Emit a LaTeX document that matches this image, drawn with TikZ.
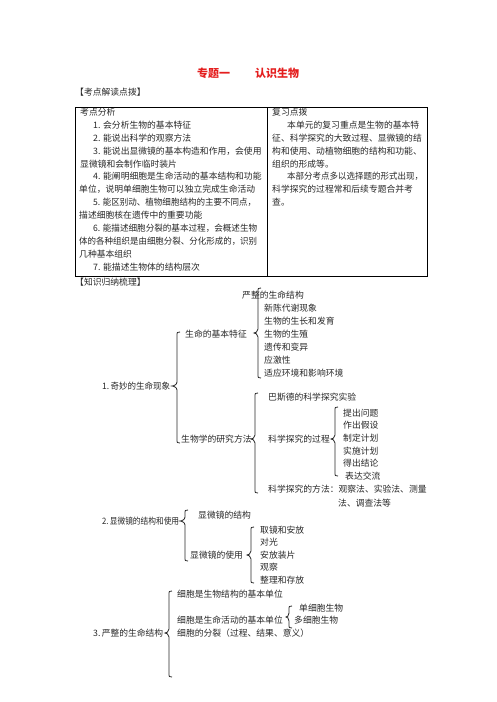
\documentclass[tikz,border=0pt]{standalone}
\usepackage{fontspec}
\usepackage{graphicx}
\setmainfont{Noto Sans CJK SC}
\definecolor{titlered}{RGB}{228,30,30}
\definecolor{ink}{RGB}{40,40,40}
\tikzset{
  txt/.style={anchor=west,inner sep=0pt,text=ink,font=\fontsize{8.8}{10}\selectfont},
  ttl/.style={anchor=west,inner sep=0pt,text=titlered,font=\fontsize{11}{13}\selectfont\bfseries},
  bracestyle/.style={draw=ink,line width=0.8pt},
  tablebox/.style={draw=black,line width=0.9pt}
}
\newcommand{\wbrace}[5]{%
  \draw[bracestyle] ({#1+3},#2) .. controls ({#1},#2) and ({#1},#2) .. ({#1},{#2+4})
   -- ({#1},{#3-4}) .. controls ({#1},{#3-1}) and ({#1-#5+1},#3) .. ({#1-#5},#3)
   .. controls ({#1-#5+1},#3) and ({#1},{#3+1}) .. ({#1},{#3+4})
   -- ({#1},{#4-4}) .. controls ({#1},#4) and ({#1},#4) .. ({#1+3},#4);}
\newcommand{\fitw}[2]{\resizebox{#1}{\height}{#2}}
\begin{document}
\begin{tikzpicture}[x=1pt,y=-1pt]
\useasboundingbox[fill=white] (0,0) rectangle (496,702);
% title
\node[ttl] (t1) at (197,73) {专题一};
\node[ttl] (t2) at (255,73) {认识生物};
\node[txt] (h1) at (75,92) {【考点解读点拨】};
% table
\draw[tablebox] (75,107) rectangle (427,276);
\draw[tablebox] (267,107) -- (267,276);
\node[txt] (l0) at (80,112) {考点分析};
\node[txt] (l1) at (93,124.9) {1. 会分析生物的基本特征};
\node[txt] (l2) at (93,137.8) {2. 能说出科学的观察方法};
\node[txt] (l3) at (93,150.8) {3. 能说出显微镜的基本构造和作用，会使用};
\node[txt] (l4) at (80,163.7) {显微镜和会制作临时装片};
\node[txt] (l5) at (93,176.6) {4. 能阐明细胞是生命活动的基本结构和功能};
\node[txt] (l6) at (79,189.5) {单位，说明单细胞生物可以独立完成生命活动};
\node[txt] (l7) at (93,202.4) {\fitw{163pt}{5. 能区别动、植物细胞结构的主要不同点，}};
\node[txt] (l8) at (79,215.4) {描述细胞核在遗传中的重要功能};
\node[txt] (l9) at (93,228.3) {\fitw{164pt}{6. 能描述细胞分裂的基本过程，会概述生物}};
\node[txt] (l10) at (79,241.2) {\fitw{178pt}{体的各种组织是由细胞分裂、分化形成的，识别}};
\node[txt] (l11) at (79,254.1) {几种基本组织};
\node[txt] (l12) at (93,267) {7. 能描述生物体的结构层次};
\node[txt] (r0) at (272,112) {复习点拨};
\node[txt] (r1) at (287,124.9) {本单元的复习重点是生物的基本特};
\node[txt] (r2) at (272,137.8) {征、科学探究的大致过程、显微镜的结};
\node[txt] (r3) at (272,150.8) {构和使用、动植物细胞的结构和功能、};
\node[txt] (r4) at (272,163.7) {组织的形成等。};
\node[txt] (r5) at (287,176.6) {\fitw{136pt}{本部分考点多以选择题的形式出现，}};
\node[txt] (r6) at (272,189.5) {科学探究的过程常和后续专题合并考};
\node[txt] (r7) at (272,202.4) {查。};
\node[txt] (h2) at (75,282) {【知识归纳梳理】};
% section 1
\node[txt] (s1) at (102,386) {\fitw{68pt}{1.\,奇妙的生命现象}};
\node[txt] (a1) at (185,334) {生命的基本特征};
\node[txt] (a1i0) at (242,295) {严整的生命结构};
\node[txt] (a1i1) at (264,308) {新陈代谢现象};
\node[txt] (a1i2) at (264,321) {生物的生长和发育};
\node[txt] (a1i3) at (264,334) {生物的生殖};
\node[txt] (a1i4) at (264,347) {遗传和变异};
\node[txt] (a1i5) at (264,360) {应激性};
\node[txt] (a1i6) at (264,373) {适应环境和影响环境};
\node[txt] (a2) at (181,439) {生物学的研究方法};
\node[txt] (b1) at (268,397) {巴斯德的科学探究实验};
\node[txt] (b2) at (268,439) {科学探究的过程};
\node[txt] (c1) at (343,413) {提出问题};
\node[txt] (c2) at (343,425.5) {作出假设};
\node[txt] (c3) at (343,438) {制定计划};
\node[txt] (c4) at (343,451) {实施计划};
\node[txt] (c5) at (343,463.5) {得出结论};
\node[txt] (c6) at (345,476.5) {表达交流};
\node[txt] (b3) at (268,489) {科学探究的方法：观察法、实验法、测量};
\node[txt] (b3b) at (338,503) {法、调查法等};
\wbrace{177}{332}{386}{443}{5}
\wbrace{258}{288}{333}{378}{4}
\wbrace{255}{393}{439}{493}{4}
\wbrace{335}{407}{439}{476}{4}
% section 2
\node[txt] (s2) at (102,521) {\fitw{77pt}{2.\,显微镜的结构和使用}};
\node[txt] (d1) at (198,515) {显微镜的结构};
\node[txt] (d2) at (190,555) {显微镜的使用};
\node[txt] (e1) at (260,530) {取镜和安放};
\node[txt] (e2) at (260,542.5) {对光};
\node[txt] (e3) at (260,555) {安放装片};
\node[txt] (e4) at (260,567.5) {观察};
\node[txt] (e5) at (260,580) {整理和存放};
\wbrace{185}{510}{521}{561}{5}
\wbrace{251}{527}{555}{583}{4}
% section 3
\node[txt] (s3) at (93,633) {\fitw{70pt}{3.\,严整的生命结构}};
\node[txt] (f1) at (177,594) {细胞是生物结构的基本单位};
\node[txt] (f2) at (177,620) {细胞是生命活动的基本单位};
\node[txt] (g1) at (299,608) {单细胞生物};
\node[txt] (g2) at (294,620) {多细胞生物};
\node[txt] (f3) at (177,633) {细胞的分裂（过程、结果、意义）};
\wbrace{289}{606}{617}{628}{3}
\wbrace{169}{591}{633}{677}{4}
\end{tikzpicture}
\end{document}
